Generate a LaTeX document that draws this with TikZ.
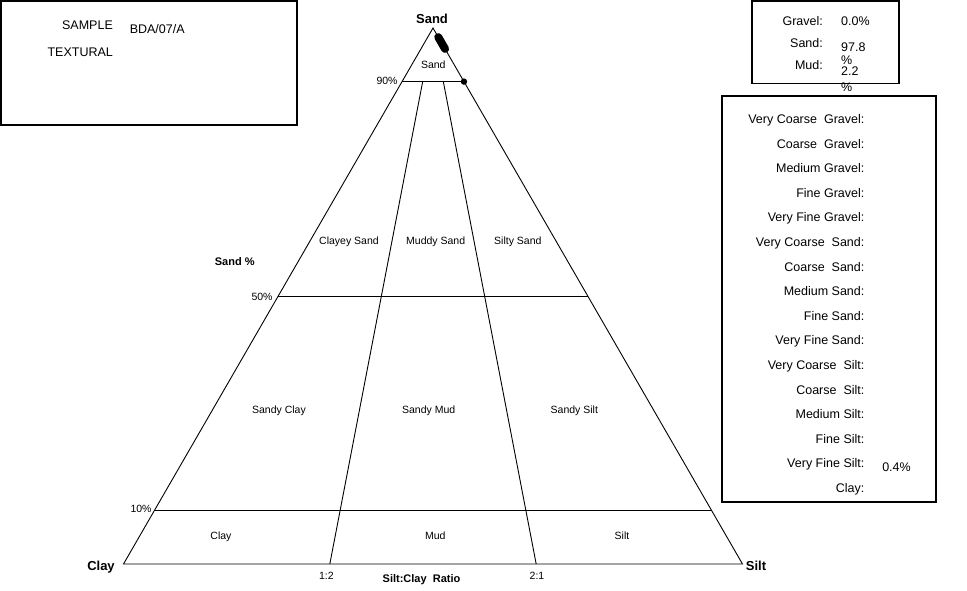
\documentclass[tikz,border=0pt]{standalone}
\usepackage{fontspec}
\setmainfont{Liberation Sans}
\usetikzlibrary{calc}
\usetikzlibrary{positioning}
\tikzset{
  corner/.style={font=\bfseries\fontsize{13}{15}\selectfont, inner sep=0pt, text height=9.3pt, text depth=0pt},
  axis/.style={font=\bfseries\fontsize{11}{13}\selectfont, inner sep=0pt, text height=7.9pt, text depth=0pt},
  region/.style={font=\fontsize{10.5}{12}\selectfont, inner sep=0pt, text height=7.5pt, text depth=0pt},
  tick/.style={region, anchor=east},
  field/.style={font=\fontsize{12.5}{14}\selectfont, anchor=east, inner sep=0pt, text height=9pt, text depth=0pt},
  entry/.style={field, anchor=west},
  panel/.style={draw, line width=1.1pt}
}

\begin{document}
\begin{tikzpicture}[x=1pt, y=-1pt, line width=0.9pt]
\useasboundingbox (0,0) rectangle (967,590);

  % Triangle corners
  \coordinate (apex) at (433,28);
  \coordinate (clay) at (123.5,564);
  \coordinate (silt) at (742.5,564);
  \draw (clay) -- (apex) -- (silt) -- cycle;

  % Sand percentage lines
  \foreach \p/\n in {0.9/s90, 0.5/s50, 0.1/s10} {
    \coordinate (\n L) at ($(clay)!\p!(apex)$);
    \coordinate (\n R) at ($(silt)!\p!(apex)$);
    \draw (\n L) -- (\n R);
  }

  % Silt:clay ratio lines
  \coordinate (r12) at ($(clay)!0.3333!(silt)$);
  \coordinate (r21) at ($(clay)!0.6667!(silt)$);
  \coordinate (r12top) at ($(r12)!0.9!(apex)$);
  \coordinate (r21top) at ($(r21)!0.9!(apex)$);
  \draw (r12) -- (r12top);
  \draw (r21) -- (r21top);

  % Corner and axis labels
  \node[corner] (sandlab) at (432,19) {Sand};
  \node[corner] (claylab) at (101,566) {Clay};
  \node[corner] (siltlab) at (756,566) {Silt};
  \node[tick] (t90) at (398,81) {90\%};
  \node[tick] (t50) at (273,297) {50\%};
  \node[tick] (t10) at (152,508.5) {10\%};
  \node[axis] (sandpc) at (234.7,262) {Sand \%};
  \node[axis] (ratio) at (421.5,578.5) {Silt:Clay\ \ Ratio};
  \node[region] (r12lab) at (326.3,575.7) {1:2};
  \node[region] (r21lab) at (537,575.7) {2:1};

  % Textural classes
  \node[region] (csand) at (433.3,65) {Sand};
  \node[region] (clsand) at (349,241) {Clayey Sand};
  \node[region] (mdsand) at (435.7,241) {Muddy Sand};
  \node[region] (slsand) at (517.8,241) {Silty Sand};
  \node[region] (sdclay) at (279,409.3) {Sandy Clay};
  \node[region] (sdmud) at (428.7,409.3) {Sandy Mud};
  \node[region] (sdsilt) at (574.3,409.3) {Sandy Silt};
  \node[region] (cclay) at (221,536) {Clay};
  \node[region] (cmud) at (435.3,535.3) {Mud};
  \node[region] (csilt) at (622,536) {Silt};

  % Sample points
  \coordinate (d1) at ($(apex)!0.017!(silt)$);
  \coordinate (d2) at ($(apex)!0.039!(silt)$);
  \draw[line width=8pt, line cap=round] (d1) -- (d2);
  \fill (s90R) circle[radius=3.2];

  % Sample box
  \draw[panel] (1,1) rectangle (297,125);
  \node[field] (samplelab) at (113.3,25) {SAMPLE};
  \node[entry] (sampleid) at (129.3,29) {BDA/07/A};
  \node[field] (texlab) at (113.3,52.3) {TEXTURAL};

  % Main fractions box
  \draw[panel] (752,1) rectangle (899,83.5);
  \node[field] (gravel) at (823.3,20.7) {Gravel:};
  \node[entry] (gravelv) at (840.7,21) {0.0\%};
  \node[field] (sand) at (823.3,42.7) {Sand:};
  \node[entry] (sandv) at (840.7,46.7) {97.8};
  \node[entry] (sandpct) at (840.7,60) {\%};
  \node[field] (mud) at (823.3,65) {Mud:};
  \node[entry] (mudv) at (840.7,70.7) {2.2};
  \node[entry] (mudpct) at (840.7,87.3) {\%};

  % Size classes box
  \draw[panel] (722,96) rectangle (936,502);
  \foreach \lab [count=\i from 0] in {Very Coarse\ \ Gravel, Coarse\ \ Gravel, Medium Gravel,
      Fine Gravel, Very Fine Gravel, Very Coarse\ \ Sand, Coarse\ \ Sand, Medium Sand,
      Fine Sand, Very Fine Sand, Very Coarse\ \ Silt, Coarse\ \ Silt, Medium Silt,
      Fine Silt, Very Fine Silt, Clay}
    \node[field] (frac\i) at (864.8,{119+24.6*\i}) {\lab:};
  \node[entry] (vfsiltv) at (881.8,466.5) {0.4\%};

\end{tikzpicture}
\end{document}
